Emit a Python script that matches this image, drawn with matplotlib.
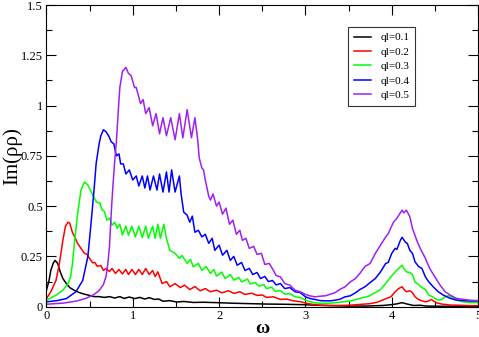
import matplotlib
matplotlib.use("Agg")
import matplotlib.pyplot as plt
from matplotlib.ticker import MultipleLocator, FuncFormatter

plt.rcParams['font.family'] = ['Liberation Serif', 'DejaVu Serif']

# (omega, Im) points, one list per ql value
ql01 = [(0, 0.082), (0.03, 0.13), (0.05, 0.18), (0.08, 0.218), (0.10, 0.23), (0.13, 0.215),
        (0.16, 0.173), (0.19, 0.14), (0.23, 0.115), (0.27, 0.095), (0.32, 0.082), (0.38, 0.07),
        (0.44, 0.062), (0.50, 0.056), (0.55, 0.05), (0.61, 0.05), (0.67, 0.046), (0.73, 0.05),
        (0.79, 0.043), (0.85, 0.05), (0.90, 0.041), (0.96, 0.048), (1.02, 0.04), (1.08, 0.046),
        (1.14, 0.038), (1.19, 0.045), (1.25, 0.036), (1.30, 0.038), (1.35, 0.027), (1.43, 0.03),
        (1.51, 0.023), (1.59, 0.026), (1.70, 0.021), (1.82, 0.022), (1.97, 0.02), (2.17, 0.017),
        (2.36, 0.015), (2.55, 0.013), (2.75, 0.012), (2.97, 0.01), (3.2, 0.006), (3.48, 0.003),
        (3.7, 0.003), (3.9, 0.006), (4.0, 0.01), (4.06, 0.014), (4.12, 0.02), (4.17, 0.014),
        (4.25, 0.006), (4.33, 0.007), (4.40, 0.003), (4.6, 0.002), (4.8, 0.002), (5.0, 0.002)]

ql02 = [(0, 0.04), (0.05, 0.074), (0.11, 0.13), (0.15, 0.215), (0.19, 0.33), (0.22, 0.40),
        (0.25, 0.42), (0.27, 0.415), (0.30, 0.37), (0.335, 0.34), (0.36, 0.315), (0.40, 0.29),
        (0.44, 0.265), (0.47, 0.26), (0.50, 0.24), (0.535, 0.218), (0.56, 0.22), (0.59, 0.20),
        (0.63, 0.205), (0.66, 0.18), (0.69, 0.19), (0.73, 0.175), (0.76, 0.19), (0.80, 0.165),
        (0.84, 0.185), (0.88, 0.163), (0.92, 0.185), (0.95, 0.16), (0.99, 0.185), (1.03, 0.16),
        (1.07, 0.185), (1.11, 0.16), (1.15, 0.19), (1.19, 0.16), (1.23, 0.18), (1.26, 0.15),
        (1.29, 0.173), (1.34, 0.115), (1.39, 0.125), (1.43, 0.099), (1.49, 0.115), (1.55, 0.095),
        (1.60, 0.107), (1.66, 0.085), (1.72, 0.10), (1.78, 0.079), (1.84, 0.09), (1.90, 0.074),
        (1.97, 0.082), (2.03, 0.069), (2.11, 0.079), (2.17, 0.066), (2.24, 0.074), (2.30, 0.061),
        (2.38, 0.067), (2.44, 0.056), (2.50, 0.058), (2.55, 0.046), (2.63, 0.049), (2.71, 0.036),
        (2.78, 0.038), (2.86, 0.029), (2.94, 0.025), (3.02, 0.016), (3.09, 0.011), (3.17, 0.0075),
        (3.29, 0.006), (3.40, 0.006), (3.52, 0.0075), (3.63, 0.011), (3.75, 0.015), (3.83, 0.022),
        (3.89, 0.032), (3.94, 0.041), (3.99, 0.049), (4.04, 0.074), (4.08, 0.09), (4.12, 0.099),
        (4.14, 0.087), (4.17, 0.074), (4.21, 0.079), (4.24, 0.07), (4.27, 0.049), (4.31, 0.036),
        (4.35, 0.029), (4.39, 0.024), (4.43, 0.029), (4.46, 0.036), (4.48, 0.029), (4.52, 0.019),
        (4.58, 0.013), (4.68, 0.008), (4.79, 0.007), (4.91, 0.005), (5.0, 0.005)]

ql03 = [(0, 0.032), (0.11, 0.057), (0.19, 0.082), (0.25, 0.115), (0.28, 0.148), (0.30, 0.21),
        (0.32, 0.30), (0.36, 0.46), (0.40, 0.58), (0.44, 0.62), (0.48, 0.605), (0.52, 0.57),
        (0.555, 0.54), (0.58, 0.52), (0.62, 0.515), (0.645, 0.48), (0.67, 0.475), (0.70, 0.43),
        (0.73, 0.44), (0.76, 0.405), (0.79, 0.42), (0.82, 0.39), (0.85, 0.41), (0.88, 0.356),
        (0.92, 0.40), (0.95, 0.356), (0.99, 0.40), (1.03, 0.347), (1.07, 0.40), (1.11, 0.344),
        (1.15, 0.40), (1.18, 0.34), (1.23, 0.40), (1.26, 0.34), (1.29, 0.41), (1.32, 0.34),
        (1.36, 0.41), (1.39, 0.34), (1.41, 0.31), (1.43, 0.28), (1.49, 0.265), (1.54, 0.24),
        (1.57, 0.255), (1.63, 0.215), (1.67, 0.235), (1.70, 0.198), (1.76, 0.215), (1.80, 0.18),
        (1.85, 0.20), (1.90, 0.165), (1.94, 0.185), (1.97, 0.152), (2.03, 0.172), (2.07, 0.14),
        (2.13, 0.16), (2.17, 0.132), (2.23, 0.145), (2.26, 0.123), (2.33, 0.137), (2.36, 0.113),
        (2.42, 0.12), (2.46, 0.102), (2.52, 0.11), (2.55, 0.09), (2.61, 0.097), (2.65, 0.076),
        (2.71, 0.08), (2.76, 0.062), (2.82, 0.065), (2.88, 0.049), (2.94, 0.045), (3.0, 0.032),
        (3.05, 0.025), (3.11, 0.019), (3.17, 0.017), (3.25, 0.017), (3.34, 0.019), (3.44, 0.024),
        (3.53, 0.029), (3.63, 0.041), (3.73, 0.052), (3.81, 0.07), (3.87, 0.085), (3.92, 0.11),
        (3.99, 0.148), (4.04, 0.173), (4.08, 0.19), (4.12, 0.206), (4.14, 0.19), (4.17, 0.173),
        (4.21, 0.17), (4.24, 0.16), (4.27, 0.123), (4.31, 0.11), (4.35, 0.095), (4.39, 0.085),
        (4.43, 0.057), (4.47, 0.05), (4.50, 0.04), (4.54, 0.032), (4.58, 0.036), (4.62, 0.049),
        (4.66, 0.055), (4.70, 0.046), (4.75, 0.032), (4.83, 0.024), (4.91, 0.02), (5.0, 0.02)]

ql04 = [(0, 0.024), (0.12, 0.03), (0.23, 0.04), (0.34, 0.074), (0.42, 0.13), (0.48, 0.25),
        (0.52, 0.43), (0.555, 0.60), (0.575, 0.71), (0.61, 0.81), (0.63, 0.85), (0.66, 0.88),
        (0.69, 0.87), (0.72, 0.85), (0.75, 0.82), (0.78, 0.81), (0.81, 0.75), (0.84, 0.76),
        (0.86, 0.71), (0.89, 0.71), (0.92, 0.66), (0.96, 0.68), (1.0, 0.63), (1.04, 0.65),
        (1.07, 0.60), (1.11, 0.65), (1.14, 0.59), (1.17, 0.65), (1.20, 0.58), (1.24, 0.65),
        (1.28, 0.58), (1.31, 0.66), (1.35, 0.57), (1.39, 0.67), (1.42, 0.57), (1.45, 0.68),
        (1.49, 0.57), (1.54, 0.65), (1.56, 0.56), (1.59, 0.47), (1.63, 0.455), (1.66, 0.42),
        (1.69, 0.45), (1.72, 0.37), (1.76, 0.38), (1.80, 0.347), (1.84, 0.36), (1.88, 0.315),
        (1.92, 0.34), (1.95, 0.28), (2.0, 0.306), (2.04, 0.256), (2.09, 0.28), (2.13, 0.23),
        (2.17, 0.25), (2.21, 0.206), (2.26, 0.22), (2.30, 0.18), (2.35, 0.19), (2.39, 0.16),
        (2.44, 0.17), (2.48, 0.14), (2.53, 0.15), (2.57, 0.125), (2.62, 0.13), (2.66, 0.108),
        (2.71, 0.115), (2.76, 0.09), (2.82, 0.095), (2.88, 0.074), (2.94, 0.07), (3.0, 0.049),
        (3.05, 0.041), (3.11, 0.036), (3.17, 0.03), (3.23, 0.029), (3.29, 0.029), (3.34, 0.032),
        (3.40, 0.037), (3.46, 0.049), (3.52, 0.054), (3.58, 0.069), (3.63, 0.085), (3.69, 0.099),
        (3.75, 0.12), (3.81, 0.14), (3.87, 0.173), (3.93, 0.215), (3.96, 0.22), (4.0, 0.265),
        (4.04, 0.29), (4.06, 0.285), (4.10, 0.33), (4.12, 0.345), (4.16, 0.32), (4.18, 0.315),
        (4.21, 0.28), (4.24, 0.265), (4.27, 0.223), (4.31, 0.20), (4.35, 0.19), (4.39, 0.148),
        (4.43, 0.123), (4.48, 0.099), (4.54, 0.074), (4.60, 0.057), (4.68, 0.041), (4.75, 0.033),
        (4.83, 0.03), (4.91, 0.028), (5.0, 0.028)]

ql05 = [(0, 0.012), (0.2, 0.018), (0.35, 0.028), (0.46, 0.042), (0.55, 0.06), (0.61, 0.08),
        (0.66, 0.11), (0.69, 0.15), (0.71, 0.21), (0.73, 0.30), (0.755, 0.50), (0.77, 0.60),
        (0.79, 0.72), (0.81, 0.82), (0.83, 0.96), (0.85, 1.09), (0.88, 1.17), (0.92, 1.19),
        (0.95, 1.16), (0.98, 1.15), (1.02, 1.09), (1.04, 1.09), (1.09, 1.01), (1.12, 1.03),
        (1.15, 0.96), (1.19, 0.99), (1.23, 0.90), (1.27, 0.96), (1.31, 0.86), (1.35, 0.94),
        (1.39, 0.85), (1.44, 0.94), (1.49, 0.83), (1.54, 0.96), (1.58, 0.84), (1.63, 0.98),
        (1.68, 0.84), (1.72, 0.94), (1.75, 0.84), (1.77, 0.74), (1.80, 0.69), (1.82, 0.68),
        (1.84, 0.63), (1.88, 0.55), (1.90, 0.53), (1.93, 0.56), (1.97, 0.50), (2.00, 0.52),
        (2.04, 0.46), (2.08, 0.49), (2.12, 0.41), (2.16, 0.43), (2.20, 0.36), (2.24, 0.38),
        (2.27, 0.33), (2.31, 0.34), (2.35, 0.29), (2.40, 0.30), (2.44, 0.26), (2.49, 0.265),
        (2.53, 0.21), (2.58, 0.215), (2.63, 0.18), (2.66, 0.155), (2.71, 0.148), (2.76, 0.115),
        (2.82, 0.107), (2.88, 0.082), (2.94, 0.074), (3.00, 0.061), (3.05, 0.054), (3.11, 0.049),
        (3.17, 0.052), (3.23, 0.054), (3.29, 0.062), (3.34, 0.069), (3.40, 0.086), (3.46, 0.099),
        (3.52, 0.123), (3.58, 0.14), (3.63, 0.165), (3.69, 0.20), (3.75, 0.215), (3.81, 0.265),
        (3.87, 0.306), (3.92, 0.34), (3.96, 0.364), (4.02, 0.42), (4.06, 0.44), (4.09, 0.46),
        (4.12, 0.48), (4.14, 0.467), (4.17, 0.48), (4.21, 0.447), (4.24, 0.39), (4.29, 0.33),
        (4.33, 0.29), (4.39, 0.24), (4.44, 0.19), (4.50, 0.148), (4.56, 0.107), (4.62, 0.074),
        (4.68, 0.057), (4.75, 0.041), (4.83, 0.036), (4.91, 0.032), (5.0, 0.03)]

series = [ql01, ql02, ql03, ql04, ql05]
labels = ["ql=0.1", "ql=0.2", "ql=0.3", "ql=0.4", "ql=0.5"]
colors = ["black", "#ff0000", "#00ff00", "#0000ff", "#a020f0"]

fig = plt.figure(figsize=(4.79, 3.37), dpi=100)
ax = fig.add_axes([0.097, 0.09, 0.901, 0.895])

for pts, lab, c in zip(series, labels, colors):
    w = [p[0] for p in pts]
    v = [p[1] for p in pts]
    ax.plot(w, v, color=c, lw=1.1, label=lab, solid_joinstyle='round')

ax.set_xlim(0, 5)
ax.set_ylim(0, 1.5)
ax.xaxis.set_major_locator(MultipleLocator(1))
ax.xaxis.set_minor_locator(MultipleLocator(0.5))
ax.yaxis.set_major_locator(MultipleLocator(0.25))
ax.yaxis.set_minor_locator(MultipleLocator(0.125))
fmt = FuncFormatter(lambda val, pos: "%g" % val)
ax.xaxis.set_major_formatter(fmt)
ax.yaxis.set_major_formatter(fmt)
ax.tick_params(which='both', direction='in', top=True, right=True, labelsize=9, pad=2.5)
ax.tick_params(which='major', length=7, width=0.8)
ax.tick_params(which='minor', length=4, width=0.8)

ax.set_xlabel("ω", fontsize=14, fontweight='bold')
ax.xaxis.set_label_coords(0.5, -0.045)
ax.xaxis.label.set_va('top')
ax.set_ylabel("Im(ρρ)", fontsize=15)
ax.yaxis.set_label_coords(-0.056, 0.5)

ax.legend(loc='upper left', bbox_to_anchor=(0.699, 0.927), borderaxespad=0,
          fontsize=8, frameon=True, fancybox=False, edgecolor='black',
          handlelength=1.6, labelspacing=0.42, borderpad=0.5)
leg = ax.get_legend()
leg.get_frame().set_linewidth(0.8)

fig.savefig("out.png", dpi=100)
